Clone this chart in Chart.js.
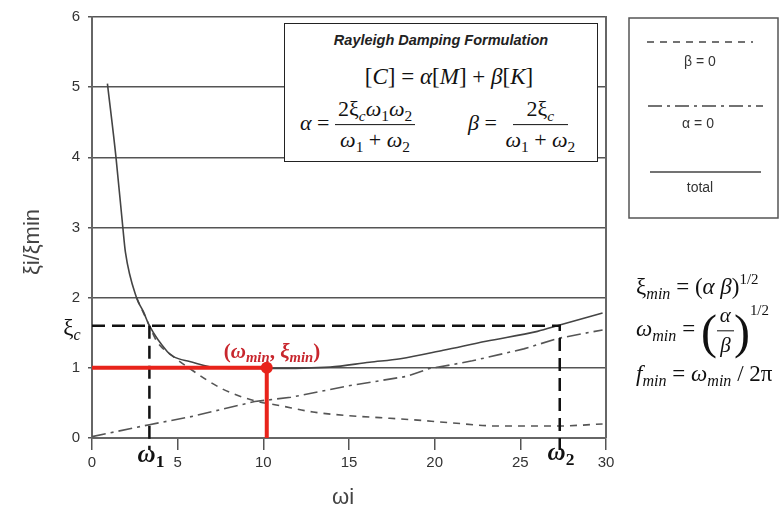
<!DOCTYPE html>
<html>
<head>
<meta charset="utf-8">
<script src="https://cdn.jsdelivr.net/npm/chart.js@4.4.1/dist/chart.umd.min.js"></script>
<style>
  html, body { margin: 0; padding: 0; background: #fff; }
  #wrap { position: relative; width: 780px; height: 512px; overflow: hidden; }
  #chart { position: absolute; left: 0; top: 0; }
  .abs { position: absolute; white-space: nowrap; }
  .math { font-family: "Liberation Serif", "DejaVu Serif", serif; color: #111; }
  .math i { font-style: italic; }
  .math sub { font-size: 70%; vertical-align: -0.3em; line-height: 0; }
  .math sup { font-size: 65%; vertical-align: 0.7em; line-height: 0; }
  .frac { display: inline-flex; flex-direction: column; align-items: center; vertical-align: middle; line-height: 1.2; }
  .frac > span:first-child { border-bottom: 1px solid #111; padding: 0 3px 2px; }
  .frac > span:last-child { padding: 2px 3px 0; }
  .sans { font-family: "Liberation Sans", Arial, sans-serif; color: #333; }
  #formulaBox { left: 284px; top: 23px; width: 312px; height: 137px; background: #fff; border: 1.5px solid #222; }
</style>
</head>
<body>
<div id="wrap">
  <canvas id="chart" width="780" height="512"></canvas>

  <!-- axis titles -->
  <div class="abs sans" style="left:32px; top:242px; font-size:22px; color:#444; transform:translate(-50%,-50%) rotate(-90deg);">ξi/ξmin</div>
  <div class="abs sans" style="left:343px; top:497px; font-size:22px; color:#444; transform:translate(-50%,-50%);">ωi</div>

  <!-- reference labels on the axes -->
  <div class="abs math" style="left:72px; top:328px; font-size:23px; transform:translate(-50%,-50%);">ξ<sub><i>c</i></sub></div>
  <div class="abs math" style="left:151px; top:454px; font-size:25px; font-weight:bold; transform:translate(-50%,-50%);"><i>ω</i><sub>1</sub></div>
  <div class="abs math" style="left:561px; top:452px; font-size:25px; font-weight:bold; transform:translate(-50%,-50%);"><i>ω</i><sub>2</sub></div>
  <div class="abs math" style="left:272px; top:351px; font-size:21px; font-weight:bold; color:#c8262d; transform:translate(-50%,-50%);">(<i>ω</i><sub><i>min</i></sub>, <i>ξ</i><sub><i>min</i></sub>)</div>

  <!-- Rayleigh damping box -->
  <div id="formulaBox" class="abs">
    <div class="abs sans" style="left:0; width:312px; top:8px; text-align:center; font-size:14.5px; font-weight:bold; font-style:italic; color:#222;">Rayleigh Damping Formulation</div>
    <div class="abs math" style="left:164px; top:53px; font-size:23px; transform:translate(-50%,-50%);">[<i>C</i>] = <i>α</i>[<i>M</i>] + <i>β</i>[<i>K</i>]</div>
    <div class="abs math" style="left:15px; top:101px; font-size:22px; transform:translateY(-50%);">
      <i>α</i> = <span class="frac"><span>2ξ<sub><i>c</i></sub><i>ω</i><sub>1</sub><i>ω</i><sub>2</sub></span><span><i>ω</i><sub>1</sub> + <i>ω</i><sub>2</sub></span></span>
    </div>
    <div class="abs math" style="left:183px; top:101px; font-size:22px; transform:translateY(-50%);">
      <i>β</i> = <span class="frac"><span>&nbsp;&nbsp;2ξ<sub><i>c</i></sub>&nbsp;&nbsp;</span><span><i>ω</i><sub>1</sub> + <i>ω</i><sub>2</sub></span></span>
    </div>
  </div>

  <!-- legend labels (sample lines are drawn on the canvas) -->
  <div class="abs sans" style="left:700px; top:61px; font-size:14px; transform:translate(-50%,-50%);">β = 0</div>
  <div class="abs sans" style="left:698px; top:123px; font-size:14px; transform:translate(-50%,-50%);">α = 0</div>
  <div class="abs sans" style="left:700px; top:187px; font-size:14px; transform:translate(-50%,-50%);">total</div>

  <!-- minimum damping relations -->
  <div class="abs math" style="left:636px; top:287px; font-size:23px; transform:translateY(-50%);">ξ<sub><i>min</i></sub> = (<i>α β</i>)<sup>1/2</sup></div>
  <div class="abs math" style="left:636px; top:331px; font-size:23px; transform:translateY(-50%);">
    <i>ω</i><sub><i>min</i></sub> = <span style="font-size:48px; vertical-align:middle;">(</span><span class="frac" style="font-size:21px;"><span><i>α</i></span><span><i>β</i></span></span><span style="font-size:48px; vertical-align:middle;">)</span><sup style="vertical-align:1.4em;">1/2</sup>
  </div>
  <div class="abs math" style="left:636px; top:374px; font-size:23px; transform:translateY(-50%);"><i>f</i><sub><i>min</i></sub> = <i>ω</i><sub><i>min</i></sub> / 2π</div>
</div>

<script>
// damping ratio curves, ξi/ξmin against ωi
const totalOmega = [0.9, 1.4, 1.8, 1.95, 2.6, 3.0, 3.35, 4.4, 4.75, 5.7, 7.3, 10.2, 13.9, 16.2, 18, 20.5, 23, 26, 27.3, 29.8];
const totalRatio = [5.05, 4.0, 3.0, 2.65, 2.0, 1.8, 1.6, 1.23, 1.16, 1.09, 1.0, 0.99, 1.01, 1.08, 1.13, 1.25, 1.38, 1.52, 1.61, 1.78];

const massOmega = [2.6, 3.35, 3.8, 4.7, 5.7, 7.6, 9.5, 11, 12.9, 14.9, 16.8, 18.7, 20.8, 23.8, 27.1, 29.8];
const massRatio = [2.0, 1.6, 1.37, 1.17, 0.99, 0.7, 0.53, 0.46, 0.37, 0.32, 0.29, 0.26, 0.22, 0.17, 0.17, 0.2];

const stiffOmega = [0, 3.35, 5.7, 9.5, 11.6, 14.9, 18.4, 19.7, 20.9, 22.2, 25.2, 27.2, 29.8];
const stiffRatio = [0.02, 0.19, 0.3, 0.52, 0.58, 0.74, 0.88, 0.99, 1.04, 1.1, 1.27, 1.42, 1.54];

// target frequencies and damping
const omega1 = 3.35;
const omega2 = 27.3;
const xiC = 1.6;
const omegaMin = 10.2;
const xiMinRatio = 1;
const guideBottom = -0.17;

const xTicks = [0, 5, 10, 15, 20, 25, 30];
const yTicks = [0, 1, 2, 3, 4, 5, 6];

const pts = (xs, ys) => xs.map((x, i) => ({ x, y: ys[i] }));

const DASH_MASS = [7, 6];
const DASH_STIFF = [14, 5, 3, 5];

const frame = {
  id: 'frame',
  beforeDatasetsDraw(chart) {
    const { ctx, chartArea: a } = chart;
    ctx.save();
    ctx.strokeStyle = '#666';
    ctx.lineWidth = 2;
    ctx.beginPath();
    ctx.moveTo(a.right, a.top - 1);
    ctx.lineTo(a.right, a.bottom);
    ctx.stroke();
    ctx.restore();
  },
  afterDraw(chart) {
    // legend panel on the right
    const ctx = chart.ctx;
    ctx.save();
    ctx.strokeStyle = '#555';
    ctx.lineWidth = 1.5;
    ctx.strokeRect(629, 18, 149, 200);
    const samples = [
      { y: 42, x0: 647, x1: 753, dash: DASH_MASS },
      { y: 106, x0: 648, x1: 763, dash: DASH_STIFF },
      { y: 172, x0: 650, x1: 761, dash: [] }
    ];
    ctx.strokeStyle = '#444';
    samples.forEach(s => {
      ctx.setLineDash(s.dash);
      ctx.beginPath();
      ctx.moveTo(s.x0, s.y);
      ctx.lineTo(s.x1, s.y);
      ctx.stroke();
    });
    ctx.restore();
  }
};

new Chart(document.getElementById('chart'), {
  type: 'line',
  data: {
    datasets: [
      {
        label: 'minimum',
        data: [{ x: omegaMin, y: xiMinRatio }],
        showLine: false,
        pointRadius: 6,
        pointBackgroundColor: '#e8231b',
        pointBorderWidth: 0,
        clip: false
      },
      {
        label: 'min guide',
        data: [{ x: 0, y: xiMinRatio }, { x: omegaMin, y: xiMinRatio }, { x: omegaMin, y: 0 }],
        borderColor: '#e8231b',
        borderWidth: 4,
        pointRadius: 0,
        borderJoinStyle: 'miter',
        clip: false
      },
      {
        label: 'xi_c',
        data: [{ x: 0, y: xiC }, { x: omega2, y: xiC }, { x: omega2, y: guideBottom }],
        borderColor: '#111',
        borderWidth: 2.5,
        borderDash: [13, 7],
        pointRadius: 0,
        clip: false
      },
      {
        label: 'omega1',
        data: [{ x: omega1, y: xiC }, { x: omega1, y: guideBottom }],
        borderColor: '#111',
        borderWidth: 2.5,
        borderDash: [13, 7],
        pointRadius: 0,
        clip: false
      },
      {
        label: 'total',
        data: pts(totalOmega, totalRatio),
        borderColor: '#444',
        borderWidth: 1.6,
        pointRadius: 0,
        cubicInterpolationMode: 'monotone'
      },
      {
        label: 'β = 0',
        data: pts(massOmega, massRatio),
        borderColor: '#555',
        borderWidth: 1.6,
        borderDash: DASH_MASS,
        pointRadius: 0,
        cubicInterpolationMode: 'monotone'
      },
      {
        label: 'α = 0',
        data: pts(stiffOmega, stiffRatio),
        borderColor: '#555',
        borderWidth: 1.6,
        borderDash: DASH_STIFF,
        pointRadius: 0
      }
    ]
  },
  options: {
    responsive: false,
    animation: false,
    events: [],
    layout: { padding: { top: 17, right: 174, left: 0, bottom: 0 } },
    plugins: { legend: { display: false }, tooltip: { enabled: false } },
    scales: {
      x: {
        type: 'linear',
        min: 0,
        max: 30,
        afterBuildTicks: s => { s.ticks = xTicks.map(v => ({ value: v })); },
        afterFit: s => { s.height = 74; },
        grid: { drawOnChartArea: false, drawTicks: true, tickLength: 12, color: '#555', lineWidth: 1.5 },
        border: { color: '#666', width: 2 },
        ticks: { color: '#333', padding: 4, font: { family: 'Liberation Sans', size: 15 } }
      },
      y: {
        min: 0,
        max: 6,
        afterBuildTicks: s => { s.ticks = yTicks.map(v => ({ value: v })); },
        afterFit: s => { s.width = 92; },
        grid: { color: '#555', lineWidth: 1.5, tickLength: 4 },
        border: { color: '#666', width: 2 },
        ticks: { color: '#333', padding: 8, font: { family: 'Liberation Sans', size: 15 } }
      }
    }
  },
  plugins: [frame]
});
</script>
</body>
</html>
